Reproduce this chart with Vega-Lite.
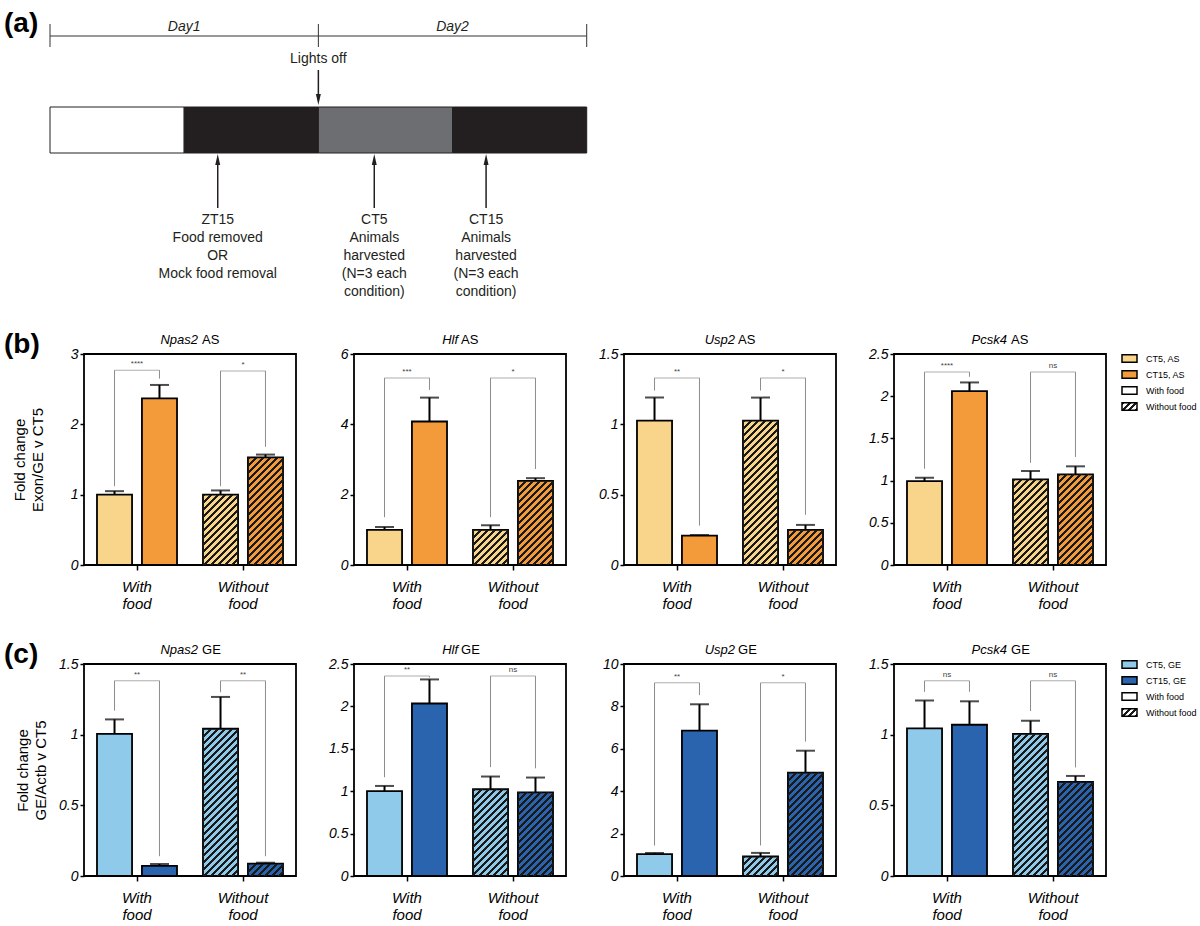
{
"$schema": "https://vega.github.io/schema/vega-lite/v6.json",
"padding": {"left": 3, "top": 10, "right": 2, "bottom": 4},
"background": "white",
"params": [{"name": "hatch", "value": [
{"offset":0,"color":"#1a1a1a"},{"offset":0.0133,"color":"#1a1a1a"},{"offset":0.0133,"color":"rgba(0,0,0,0)"},{"offset":0.0333,"color":"rgba(0,0,0,0)"},
{"offset":0.0333,"color":"#1a1a1a"},{"offset":0.0467,"color":"#1a1a1a"},{"offset":0.0467,"color":"rgba(0,0,0,0)"},{"offset":0.0667,"color":"rgba(0,0,0,0)"},
{"offset":0.0667,"color":"#1a1a1a"},{"offset":0.08,"color":"#1a1a1a"},{"offset":0.08,"color":"rgba(0,0,0,0)"},{"offset":0.1,"color":"rgba(0,0,0,0)"},
{"offset":0.1,"color":"#1a1a1a"},{"offset":0.1133,"color":"#1a1a1a"},{"offset":0.1133,"color":"rgba(0,0,0,0)"},{"offset":0.1333,"color":"rgba(0,0,0,0)"},
{"offset":0.1333,"color":"#1a1a1a"},{"offset":0.1467,"color":"#1a1a1a"},{"offset":0.1467,"color":"rgba(0,0,0,0)"},{"offset":0.1667,"color":"rgba(0,0,0,0)"},
{"offset":0.1667,"color":"#1a1a1a"},{"offset":0.18,"color":"#1a1a1a"},{"offset":0.18,"color":"rgba(0,0,0,0)"},{"offset":0.2,"color":"rgba(0,0,0,0)"},
{"offset":0.2,"color":"#1a1a1a"},{"offset":0.2133,"color":"#1a1a1a"},{"offset":0.2133,"color":"rgba(0,0,0,0)"},{"offset":0.2333,"color":"rgba(0,0,0,0)"},
{"offset":0.2333,"color":"#1a1a1a"},{"offset":0.2467,"color":"#1a1a1a"},{"offset":0.2467,"color":"rgba(0,0,0,0)"},{"offset":0.2667,"color":"rgba(0,0,0,0)"},
{"offset":0.2667,"color":"#1a1a1a"},{"offset":0.28,"color":"#1a1a1a"},{"offset":0.28,"color":"rgba(0,0,0,0)"},{"offset":0.3,"color":"rgba(0,0,0,0)"},
{"offset":0.3,"color":"#1a1a1a"},{"offset":0.3133,"color":"#1a1a1a"},{"offset":0.3133,"color":"rgba(0,0,0,0)"},{"offset":0.3333,"color":"rgba(0,0,0,0)"},
{"offset":0.3333,"color":"#1a1a1a"},{"offset":0.3467,"color":"#1a1a1a"},{"offset":0.3467,"color":"rgba(0,0,0,0)"},{"offset":0.3667,"color":"rgba(0,0,0,0)"},
{"offset":0.3667,"color":"#1a1a1a"},{"offset":0.38,"color":"#1a1a1a"},{"offset":0.38,"color":"rgba(0,0,0,0)"},{"offset":0.4,"color":"rgba(0,0,0,0)"},
{"offset":0.4,"color":"#1a1a1a"},{"offset":0.4133,"color":"#1a1a1a"},{"offset":0.4133,"color":"rgba(0,0,0,0)"},{"offset":0.4333,"color":"rgba(0,0,0,0)"},
{"offset":0.4333,"color":"#1a1a1a"},{"offset":0.4467,"color":"#1a1a1a"},{"offset":0.4467,"color":"rgba(0,0,0,0)"},{"offset":0.4667,"color":"rgba(0,0,0,0)"},
{"offset":0.4667,"color":"#1a1a1a"},{"offset":0.48,"color":"#1a1a1a"},{"offset":0.48,"color":"rgba(0,0,0,0)"},{"offset":0.5,"color":"rgba(0,0,0,0)"},
{"offset":0.5,"color":"#1a1a1a"},{"offset":0.5133,"color":"#1a1a1a"},{"offset":0.5133,"color":"rgba(0,0,0,0)"},{"offset":0.5333,"color":"rgba(0,0,0,0)"},
{"offset":0.5333,"color":"#1a1a1a"},{"offset":0.5467,"color":"#1a1a1a"},{"offset":0.5467,"color":"rgba(0,0,0,0)"},{"offset":0.5667,"color":"rgba(0,0,0,0)"},
{"offset":0.5667,"color":"#1a1a1a"},{"offset":0.58,"color":"#1a1a1a"},{"offset":0.58,"color":"rgba(0,0,0,0)"},{"offset":0.6,"color":"rgba(0,0,0,0)"},
{"offset":0.6,"color":"#1a1a1a"},{"offset":0.6133,"color":"#1a1a1a"},{"offset":0.6133,"color":"rgba(0,0,0,0)"},{"offset":0.6333,"color":"rgba(0,0,0,0)"},
{"offset":0.6333,"color":"#1a1a1a"},{"offset":0.6467,"color":"#1a1a1a"},{"offset":0.6467,"color":"rgba(0,0,0,0)"},{"offset":0.6667,"color":"rgba(0,0,0,0)"},
{"offset":0.6667,"color":"#1a1a1a"},{"offset":0.68,"color":"#1a1a1a"},{"offset":0.68,"color":"rgba(0,0,0,0)"},{"offset":0.7,"color":"rgba(0,0,0,0)"},
{"offset":0.7,"color":"#1a1a1a"},{"offset":0.7133,"color":"#1a1a1a"},{"offset":0.7133,"color":"rgba(0,0,0,0)"},{"offset":0.7333,"color":"rgba(0,0,0,0)"},
{"offset":0.7333,"color":"#1a1a1a"},{"offset":0.7467,"color":"#1a1a1a"},{"offset":0.7467,"color":"rgba(0,0,0,0)"},{"offset":0.7667,"color":"rgba(0,0,0,0)"},
{"offset":0.7667,"color":"#1a1a1a"},{"offset":0.78,"color":"#1a1a1a"},{"offset":0.78,"color":"rgba(0,0,0,0)"},{"offset":0.8,"color":"rgba(0,0,0,0)"},
{"offset":0.8,"color":"#1a1a1a"},{"offset":0.8133,"color":"#1a1a1a"},{"offset":0.8133,"color":"rgba(0,0,0,0)"},{"offset":0.8333,"color":"rgba(0,0,0,0)"},
{"offset":0.8333,"color":"#1a1a1a"},{"offset":0.8467,"color":"#1a1a1a"},{"offset":0.8467,"color":"rgba(0,0,0,0)"},{"offset":0.8667,"color":"rgba(0,0,0,0)"},
{"offset":0.8667,"color":"#1a1a1a"},{"offset":0.88,"color":"#1a1a1a"},{"offset":0.88,"color":"rgba(0,0,0,0)"},{"offset":0.9,"color":"rgba(0,0,0,0)"},
{"offset":0.9,"color":"#1a1a1a"},{"offset":0.9133,"color":"#1a1a1a"},{"offset":0.9133,"color":"rgba(0,0,0,0)"},{"offset":0.9333,"color":"rgba(0,0,0,0)"},
{"offset":0.9333,"color":"#1a1a1a"},{"offset":0.9467,"color":"#1a1a1a"},{"offset":0.9467,"color":"rgba(0,0,0,0)"},{"offset":0.9667,"color":"rgba(0,0,0,0)"},
{"offset":0.9667,"color":"#1a1a1a"},{"offset":0.98,"color":"#1a1a1a"},{"offset":0.98,"color":"rgba(0,0,0,0)"},{"offset":1,"color":"rgba(0,0,0,0)"}
]},
{"name": "legendHatch", "value": [
{"offset":0,"color":"#1a1a1a"},{"offset":0.11,"color":"#1a1a1a"},{"offset":0.11,"color":"white"},{"offset":0.25,"color":"white"},
{"offset":0.25,"color":"#1a1a1a"},{"offset":0.36,"color":"#1a1a1a"},{"offset":0.36,"color":"white"},{"offset":0.5,"color":"white"},
{"offset":0.5,"color":"#1a1a1a"},{"offset":0.61,"color":"#1a1a1a"},{"offset":0.61,"color":"white"},{"offset":0.75,"color":"white"},
{"offset":0.75,"color":"#1a1a1a"},{"offset":0.86,"color":"#1a1a1a"},{"offset":0.86,"color":"white"},{"offset":1,"color":"white"}
]}],
"datasets": {
"schedule": [
{"start": 0, "end": 12, "phase": "Light"},
{"start": 12, "end": 24, "phase": "Dark"},
{"start": 24, "end": 36, "phase": "Subjective day"},
{"start": 36, "end": 48, "phase": "Dark"}
],
"days": [
{"day": "Day1", "start": 0, "end": 24, "mid": 12},
{"day": "Day2", "start": 24, "end": 48, "mid": 36}
],
"dayBounds": [{"t": 0}, {"t": 24}, {"t": 48}],
"events": [
{"t": 15, "dir": "up", "label": "ZT15\nFood removed\nOR\nMock food removal"},
{"t": 29, "dir": "up", "label": "CT5\nAnimals\nharvested\n(N=3 each\ncondition)"},
{"t": 39, "dir": "up", "label": "CT15\nAnimals\nharvested\n(N=3 each\ncondition)"},
{"t": 24, "dir": "down", "label": "Lights off"}
],
"bars": [
{"panel":"Npas2 AS","food":"With food","time":"CT5","series":"CT5, AS","mean":1.0,"upper":1.05},
{"panel":"Npas2 AS","food":"With food","time":"CT15","series":"CT15, AS","mean":2.37,"upper":2.56},
{"panel":"Npas2 AS","food":"Without food","time":"CT5","series":"CT5, AS","mean":1.0,"upper":1.06},
{"panel":"Npas2 AS","food":"Without food","time":"CT15","series":"CT15, AS","mean":1.53,"upper":1.57},
{"panel":"Hlf AS","food":"With food","time":"CT5","series":"CT5, AS","mean":1.0,"upper":1.08},
{"panel":"Hlf AS","food":"With food","time":"CT15","series":"CT15, AS","mean":4.08,"upper":4.76},
{"panel":"Hlf AS","food":"Without food","time":"CT5","series":"CT5, AS","mean":1.0,"upper":1.13},
{"panel":"Hlf AS","food":"Without food","time":"CT15","series":"CT15, AS","mean":2.39,"upper":2.47},
{"panel":"Usp2 AS","food":"With food","time":"CT5","series":"CT5, AS","mean":1.027,"upper":1.19},
{"panel":"Usp2 AS","food":"With food","time":"CT15","series":"CT15, AS","mean":0.209,"upper":0.213},
{"panel":"Usp2 AS","food":"Without food","time":"CT5","series":"CT5, AS","mean":1.027,"upper":1.19},
{"panel":"Usp2 AS","food":"Without food","time":"CT15","series":"CT15, AS","mean":0.25,"upper":0.285},
{"panel":"Pcsk4 AS","food":"With food","time":"CT5","series":"CT5, AS","mean":0.994,"upper":1.034},
{"panel":"Pcsk4 AS","food":"With food","time":"CT15","series":"CT15, AS","mean":2.06,"upper":2.163},
{"panel":"Pcsk4 AS","food":"Without food","time":"CT5","series":"CT5, AS","mean":1.014,"upper":1.113},
{"panel":"Pcsk4 AS","food":"Without food","time":"CT15","series":"CT15, AS","mean":1.074,"upper":1.169},
{"panel":"Npas2 GE","food":"With food","time":"CT5","series":"CT5, GE","mean":1.005,"upper":1.108},
{"panel":"Npas2 GE","food":"With food","time":"CT15","series":"CT15, GE","mean":0.071,"upper":0.085},
{"panel":"Npas2 GE","food":"Without food","time":"CT5","series":"CT5, GE","mean":1.042,"upper":1.267},
{"panel":"Npas2 GE","food":"Without food","time":"CT15","series":"CT15, GE","mean":0.087,"upper":0.094},
{"panel":"Hlf GE","food":"With food","time":"CT5","series":"CT5, GE","mean":1.0,"upper":1.062},
{"panel":"Hlf GE","food":"With food","time":"CT15","series":"CT15, GE","mean":2.034,"upper":2.318},
{"panel":"Hlf GE","food":"Without food","time":"CT5","series":"CT5, GE","mean":1.023,"upper":1.173},
{"panel":"Hlf GE","food":"Without food","time":"CT15","series":"CT15, GE","mean":0.987,"upper":1.161},
{"panel":"Usp2 GE","food":"With food","time":"CT5","series":"CT5, GE","mean":1.03,"upper":1.09},
{"panel":"Usp2 GE","food":"With food","time":"CT15","series":"CT15, GE","mean":6.86,"upper":8.1},
{"panel":"Usp2 GE","food":"Without food","time":"CT5","series":"CT5, GE","mean":0.92,"upper":1.09},
{"panel":"Usp2 GE","food":"Without food","time":"CT15","series":"CT15, GE","mean":4.88,"upper":5.91},
{"panel":"Pcsk4 GE","food":"With food","time":"CT5","series":"CT5, GE","mean":1.044,"upper":1.241},
{"panel":"Pcsk4 GE","food":"With food","time":"CT15","series":"CT15, GE","mean":1.07,"upper":1.236},
{"panel":"Pcsk4 GE","food":"Without food","time":"CT5","series":"CT5, GE","mean":1.006,"upper":1.098},
{"panel":"Pcsk4 GE","food":"Without food","time":"CT15","series":"CT15, GE","mean":0.666,"upper":0.708}
],
"brackets": [
{"panel":"Npas2 AS","food":"With food","top":2.77,"left":1.12,"right":2.65,"sig":"****"},
{"panel":"Npas2 AS","food":"Without food","top":2.76,"left":1.12,"right":1.68,"sig":"*"},
{"panel":"Hlf AS","food":"With food","top":5.32,"left":1.36,"right":4.98,"sig":"***"},
{"panel":"Hlf AS","food":"Without food","top":5.32,"left":1.36,"right":2.73,"sig":"*"},
{"panel":"Usp2 AS","food":"With food","top":1.33,"left":1.24,"right":0.28,"sig":"**"},
{"panel":"Usp2 AS","food":"Without food","top":1.33,"left":1.24,"right":0.357,"sig":"*"},
{"panel":"Pcsk4 AS","food":"With food","top":2.286,"left":1.14,"right":2.23,"sig":"****"},
{"panel":"Pcsk4 AS","food":"Without food","top":2.286,"left":1.21,"right":1.28,"sig":"ns"},
{"panel":"Npas2 GE","food":"With food","top":1.382,"left":1.17,"right":0.14,"sig":"**"},
{"panel":"Npas2 GE","food":"Without food","top":1.382,"left":1.3,"right":0.14,"sig":"**"},
{"panel":"Hlf GE","food":"With food","top":2.358,"left":1.165,"right":2.34,"sig":"**"},
{"panel":"Hlf GE","food":"Without food","top":2.358,"left":1.284,"right":1.27,"sig":"ns"},
{"panel":"Usp2 GE","food":"With food","top":9.11,"left":1.44,"right":8.53,"sig":"**"},
{"panel":"Usp2 GE","food":"Without food","top":9.11,"left":1.44,"right":6.34,"sig":"*"},
{"panel":"Pcsk4 GE","food":"With food","top":1.381,"left":1.303,"right":1.303,"sig":"ns"},
{"panel":"Pcsk4 GE","food":"Without food","top":1.381,"left":1.167,"right":0.768,"sig":"ns"}
],
"titles": [
{"panel":"Npas2 AS","gene":"Npas2","kind":"AS"},
{"panel":"Hlf AS","gene":"Hlf","kind":"AS"},
{"panel":"Usp2 AS","gene":"Usp2","kind":"AS"},
{"panel":"Pcsk4 AS","gene":"Pcsk4","kind":"AS"},
{"panel":"Npas2 GE","gene":"Npas2","kind":"GE"},
{"panel":"Hlf GE","gene":"Hlf","kind":"GE"},
{"panel":"Usp2 GE","gene":"Usp2","kind":"GE"},
{"panel":"Pcsk4 GE","gene":"Pcsk4","kind":"GE"}
]
},
"config": {
"font": "Liberation Sans",
"view": {"stroke": null},
"axis": {"grid": false, "domain": false, "tickColor": "black", "tickWidth": 1.5, "labelColor": "black", "labelFontStyle": "italic", "titleColor": "black", "titleFontWeight": "normal", "titleFontStyle": "normal", "titleFontSize": 15},
"axisX": {"labelFontSize": 15, "labelLineHeight": 17, "tickSize": 5, "labelPadding": 9, "labelAngle": 0},
"axisY": {"labelFontSize": 14, "tickSize": 4, "labelPadding": 2, "titleLineHeight": 18},
"title": {"fontSize": 28, "fontWeight": "bold", "anchor": "start", "frame": "group", "dx": -80, "offset": 0, "baseline": "middle", "color": "black"}
},
"columns": 4,
"spacing": {"row": 99, "column": 58},
"bounds": "flush",
"align": "none",
"resolve": {"scale": {"fill": "independent", "stroke": "independent"}, "legend": {"fill": "independent", "stroke": "independent"}},
"concat": [
{
"width": 212, "height": 245,
"title": {"text": "(a)", "dy": 32},
"layer": [
{"data": {"name": "schedule"}, "mark": {"type": "bar", "stroke": "#231f20", "strokeWidth": 1},
 "encoding": {
  "x": {"field": "start", "type": "quantitative", "scale": {"domain": [3.04, 22.0], "nice": false, "zero": false}, "axis": null},
  "x2": {"field": "end"},
  "y": {"datum": 9.7, "type": "quantitative", "scale": {"domain": [0, 24.5], "reverse": true, "nice": false, "zero": false}, "axis": null},
  "y2": {"datum": 14.3},
  "fill": {"field": "phase", "type": "nominal", "scale": {"domain": ["Light", "Dark", "Subjective day"], "range": ["white", "#231f20", "#6d6e71"]}, "legend": null}
 }},
{"data": {"name": "days"}, "mark": {"type": "rule", "color": "#333333", "strokeWidth": 1},
 "encoding": {"x": {"field": "start", "type": "quantitative"}, "x2": {"field": "end"}, "y": {"datum": 2.6, "type": "quantitative"}}},
{"data": {"name": "dayBounds"}, "mark": {"type": "rule", "color": "#333333", "strokeWidth": 1},
 "encoding": {"x": {"field": "t", "type": "quantitative"}, "y": {"datum": 1.4, "type": "quantitative"}, "y2": {"datum": 3.7}}},
{"data": {"name": "days"}, "mark": {"type": "text", "fontSize": 14, "fontStyle": "italic", "baseline": "middle", "color": "#231f20"},
 "encoding": {"x": {"field": "mid", "type": "quantitative"}, "y": {"datum": 1.7, "type": "quantitative"}, "text": {"field": "day"}}},
{"data": {"name": "events"}, "transform": [{"filter": "datum.dir === 'up'"}],
 "layer": [
  {"mark": {"type": "rule", "color": "#231f20", "strokeWidth": 1.5},
   "encoding": {"x": {"field": "t", "type": "quantitative"}, "y": {"datum": 15.2, "type": "quantitative"}, "y2": {"datum": 19.8}}},
  {"mark": {"type": "point", "shape": "M0,-1L0.45,1L-0.45,1Z", "filled": true, "size": 121, "color": "#231f20", "opacity": 1},
   "encoding": {"x": {"field": "t", "type": "quantitative"}, "y": {"datum": 14.95, "type": "quantitative"}}},
  {"mark": {"type": "text", "fontSize": 14, "baseline": "top", "lineBreak": "\n", "lineHeight": 18, "color": "#231f20"},
   "encoding": {"x": {"field": "t", "type": "quantitative"}, "y": {"datum": 20.3, "type": "quantitative"}, "text": {"field": "label"}}}
 ]},
{"data": {"name": "events"}, "transform": [{"filter": "datum.dir === 'down'"}],
 "layer": [
  {"mark": {"type": "rule", "color": "#231f20", "strokeWidth": 1.5},
   "encoding": {"x": {"field": "t", "type": "quantitative"}, "y": {"datum": 6.0, "type": "quantitative"}, "y2": {"datum": 9.0}}},
  {"mark": {"type": "point", "shape": "M0,1L0.45,-1L-0.45,-1Z", "filled": true, "size": 121, "color": "#231f20", "opacity": 1},
   "encoding": {"x": {"field": "t", "type": "quantitative"}, "y": {"datum": 8.95, "type": "quantitative"}}},
  {"mark": {"type": "text", "fontSize": 14, "baseline": "middle", "color": "#231f20"},
   "encoding": {"x": {"field": "t", "type": "quantitative"}, "y": {"datum": 4.9, "type": "quantitative"}, "text": {"field": "label"}}}
 ]}
]
},
{"width": 1, "height": 245, "data": {"values": []}, "mark": "point"},
{"width": 1, "height": 245, "data": {"values": []}, "mark": "point"},
{"width": 1, "height": 245, "data": {"values": []}, "mark": "point"},
{
"width": 212, "height": 211,
"view": {"stroke": "black", "strokeWidth": 1.8},
"title": {"text": "(b)", "dy": 29},
"encoding": {"x": {"field": "food", "type": "nominal", "scale": {"domain": ["With food", "Without food"], "paddingInner": 0.245, "paddingOuter": 0.1225}, "axis": {"labelExpr": "split(datum.label, ' ')", "title": null}}},
"layer": [
{"data": {"name": "bars"}, "transform": [{"filter": "datum.panel === 'Npas2 AS'"}], "layer": [
 {"mark": {"type": "bar", "stroke": "black", "strokeWidth": 1.8},
  "encoding": {"xOffset": {"field": "time", "type": "nominal", "scale": {"domain": ["CT5", "CT15"], "paddingInner": 0.22, "paddingOuter": 0}},
   "y": {"field": "mean", "type": "quantitative", "stack": null, "scale": {"domain": [0, 3], "nice": false}, "axis": {"values": [0, 1, 2, 3], "format": "~r", "title": ["Fold change", "Exon/GE v CT5"], "titlePadding": 25}},
   "fill": {"field": "series", "type": "nominal", "scale": {"domain": ["CT5, AS", "CT15, AS"], "range": ["#F8D58A", "#F39A3B"]}, "legend": null}}},
 {"transform": [{"filter": "datum.food === 'Without food'"}], "mark": {"type": "bar", "strokeWidth": 0, "fill": {"expr": "{gradient:'linear',x1:0,y1:0,x2:7350/(1225+pow(datum.mean*70.33,2)),y2:210*datum.mean*70.33/(1225+pow(datum.mean*70.33,2)),stops:hatch}"}},
  "encoding": {"xOffset": {"field": "time", "type": "nominal"}, "y": {"field": "mean", "type": "quantitative", "stack": null}}},
 {"mark": {"type": "rule", "color": "black", "strokeWidth": 2},
  "encoding": {"xOffset": {"field": "time", "type": "nominal"}, "y": {"field": "mean", "type": "quantitative"}, "y2": {"field": "upper"}}},
 {"mark": {"type": "tick", "color": "black", "thickness": 2, "size": 19},
  "encoding": {"xOffset": {"field": "time", "type": "nominal"}, "y": {"field": "upper", "type": "quantitative"}}}
]},
{"data": {"name": "brackets"}, "transform": [{"filter": "datum.panel === 'Npas2 AS'"}], "layer": [
 {"mark": {"type": "rule", "color": "#8c8c8c", "strokeWidth": 1}, "encoding": {"xOffset": {"datum": "CT5", "type": "nominal"}, "y": {"field": "left", "type": "quantitative"}, "y2": {"field": "top"}}},
 {"mark": {"type": "rule", "color": "#8c8c8c", "strokeWidth": 1}, "encoding": {"xOffset": {"datum": "CT15", "type": "nominal"}, "y": {"field": "right", "type": "quantitative"}, "y2": {"field": "top"}}},
 {"mark": {"type": "tick", "color": "#8c8c8c", "thickness": 1, "size": 45}, "encoding": {"y": {"field": "top", "type": "quantitative"}}},
 {"mark": {"type": "text", "fontSize": 8, "color": "#444444", "baseline": "alphabetic", "dy": -4}, "encoding": {"y": {"field": "top", "type": "quantitative"}, "text": {"field": "sig"}}}
]},
{"data": {"name": "titles"}, "transform": [{"filter": "datum.panel === 'Npas2 AS'"}], "layer": [
 {"mark": {"type": "text", "fontSize": 13, "fontStyle": "italic", "align": "right", "baseline": "middle", "dx": 8, "dy": -14},
  "encoding": {"x": {"datum": "With food", "type": "nominal", "bandPosition": 1.1625}, "y": {"datum": 3, "type": "quantitative"}, "text": {"field": "gene"}}},
 {"mark": {"type": "text", "fontSize": 13, "align": "left", "baseline": "middle", "dx": 12, "dy": -14},
  "encoding": {"x": {"datum": "With food", "type": "nominal", "bandPosition": 1.1625}, "y": {"datum": 3, "type": "quantitative"}, "text": {"field": "kind"}}}
]}
]
},
{
"width": 212, "height": 211,
"view": {"stroke": "black", "strokeWidth": 1.8},
"encoding": {"x": {"field": "food", "type": "nominal", "scale": {"domain": ["With food", "Without food"], "paddingInner": 0.245, "paddingOuter": 0.1225}, "axis": {"labelExpr": "split(datum.label, ' ')", "title": null}}},
"layer": [
{"data": {"name": "bars"}, "transform": [{"filter": "datum.panel === 'Hlf AS'"}], "layer": [
 {"mark": {"type": "bar", "stroke": "black", "strokeWidth": 1.8},
  "encoding": {"xOffset": {"field": "time", "type": "nominal", "scale": {"domain": ["CT5", "CT15"], "paddingInner": 0.22, "paddingOuter": 0}},
   "y": {"field": "mean", "type": "quantitative", "stack": null, "scale": {"domain": [0, 6], "nice": false}, "axis": {"values": [0, 2, 4, 6], "format": "~r", "title": null}},
   "fill": {"field": "series", "type": "nominal", "scale": {"domain": ["CT5, AS", "CT15, AS"], "range": ["#F8D58A", "#F39A3B"]}, "legend": null}}},
 {"transform": [{"filter": "datum.food === 'Without food'"}], "mark": {"type": "bar", "strokeWidth": 0, "fill": {"expr": "{gradient:'linear',x1:0,y1:0,x2:7350/(1225+pow(datum.mean*35.17,2)),y2:210*datum.mean*35.17/(1225+pow(datum.mean*35.17,2)),stops:hatch}"}},
  "encoding": {"xOffset": {"field": "time", "type": "nominal"}, "y": {"field": "mean", "type": "quantitative", "stack": null}}},
 {"mark": {"type": "rule", "color": "black", "strokeWidth": 2},
  "encoding": {"xOffset": {"field": "time", "type": "nominal"}, "y": {"field": "mean", "type": "quantitative"}, "y2": {"field": "upper"}}},
 {"mark": {"type": "tick", "color": "black", "thickness": 2, "size": 19},
  "encoding": {"xOffset": {"field": "time", "type": "nominal"}, "y": {"field": "upper", "type": "quantitative"}}}
]},
{"data": {"name": "brackets"}, "transform": [{"filter": "datum.panel === 'Hlf AS'"}], "layer": [
 {"mark": {"type": "rule", "color": "#8c8c8c", "strokeWidth": 1}, "encoding": {"xOffset": {"datum": "CT5", "type": "nominal"}, "y": {"field": "left", "type": "quantitative"}, "y2": {"field": "top"}}},
 {"mark": {"type": "rule", "color": "#8c8c8c", "strokeWidth": 1}, "encoding": {"xOffset": {"datum": "CT15", "type": "nominal"}, "y": {"field": "right", "type": "quantitative"}, "y2": {"field": "top"}}},
 {"mark": {"type": "tick", "color": "#8c8c8c", "thickness": 1, "size": 45}, "encoding": {"y": {"field": "top", "type": "quantitative"}}},
 {"mark": {"type": "text", "fontSize": 8, "color": "#444444", "baseline": "alphabetic", "dy": -4}, "encoding": {"y": {"field": "top", "type": "quantitative"}, "text": {"field": "sig"}}}
]},
{"data": {"name": "titles"}, "transform": [{"filter": "datum.panel === 'Hlf AS'"}], "layer": [
 {"mark": {"type": "text", "fontSize": 13, "fontStyle": "italic", "align": "right", "baseline": "middle", "dx": -2, "dy": -14},
  "encoding": {"x": {"datum": "With food", "type": "nominal", "bandPosition": 1.1625}, "y": {"datum": 6, "type": "quantitative"}, "text": {"field": "gene"}}},
 {"mark": {"type": "text", "fontSize": 13, "align": "left", "baseline": "middle", "dx": 1, "dy": -14},
  "encoding": {"x": {"datum": "With food", "type": "nominal", "bandPosition": 1.1625}, "y": {"datum": 6, "type": "quantitative"}, "text": {"field": "kind"}}}
]}
]
},
{
"width": 212, "height": 211,
"view": {"stroke": "black", "strokeWidth": 1.8},
"encoding": {"x": {"field": "food", "type": "nominal", "scale": {"domain": ["With food", "Without food"], "paddingInner": 0.245, "paddingOuter": 0.1225}, "axis": {"labelExpr": "split(datum.label, ' ')", "title": null}}},
"layer": [
{"data": {"name": "bars"}, "transform": [{"filter": "datum.panel === 'Usp2 AS'"}], "layer": [
 {"mark": {"type": "bar", "stroke": "black", "strokeWidth": 1.8},
  "encoding": {"xOffset": {"field": "time", "type": "nominal", "scale": {"domain": ["CT5", "CT15"], "paddingInner": 0.22, "paddingOuter": 0}},
   "y": {"field": "mean", "type": "quantitative", "stack": null, "scale": {"domain": [0, 1.5], "nice": false}, "axis": {"values": [0, 0.5, 1, 1.5], "format": "~r", "title": null}},
   "fill": {"field": "series", "type": "nominal", "scale": {"domain": ["CT5, AS", "CT15, AS"], "range": ["#F8D58A", "#F39A3B"]}, "legend": null}}},
 {"transform": [{"filter": "datum.food === 'Without food'"}], "mark": {"type": "bar", "strokeWidth": 0, "fill": {"expr": "{gradient:'linear',x1:0,y1:0,x2:7350/(1225+pow(datum.mean*140.67,2)),y2:210*datum.mean*140.67/(1225+pow(datum.mean*140.67,2)),stops:hatch}"}},
  "encoding": {"xOffset": {"field": "time", "type": "nominal"}, "y": {"field": "mean", "type": "quantitative", "stack": null}}},
 {"mark": {"type": "rule", "color": "black", "strokeWidth": 2},
  "encoding": {"xOffset": {"field": "time", "type": "nominal"}, "y": {"field": "mean", "type": "quantitative"}, "y2": {"field": "upper"}}},
 {"mark": {"type": "tick", "color": "black", "thickness": 2, "size": 19},
  "encoding": {"xOffset": {"field": "time", "type": "nominal"}, "y": {"field": "upper", "type": "quantitative"}}}
]},
{"data": {"name": "brackets"}, "transform": [{"filter": "datum.panel === 'Usp2 AS'"}], "layer": [
 {"mark": {"type": "rule", "color": "#8c8c8c", "strokeWidth": 1}, "encoding": {"xOffset": {"datum": "CT5", "type": "nominal"}, "y": {"field": "left", "type": "quantitative"}, "y2": {"field": "top"}}},
 {"mark": {"type": "rule", "color": "#8c8c8c", "strokeWidth": 1}, "encoding": {"xOffset": {"datum": "CT15", "type": "nominal"}, "y": {"field": "right", "type": "quantitative"}, "y2": {"field": "top"}}},
 {"mark": {"type": "tick", "color": "#8c8c8c", "thickness": 1, "size": 45}, "encoding": {"y": {"field": "top", "type": "quantitative"}}},
 {"mark": {"type": "text", "fontSize": 8, "color": "#444444", "baseline": "alphabetic", "dy": -4}, "encoding": {"y": {"field": "top", "type": "quantitative"}, "text": {"field": "sig"}}}
]},
{"data": {"name": "titles"}, "transform": [{"filter": "datum.panel === 'Usp2 AS'"}], "layer": [
 {"mark": {"type": "text", "fontSize": 13, "fontStyle": "italic", "align": "right", "baseline": "middle", "dx": 5, "dy": -14},
  "encoding": {"x": {"datum": "With food", "type": "nominal", "bandPosition": 1.1625}, "y": {"datum": 1.5, "type": "quantitative"}, "text": {"field": "gene"}}},
 {"mark": {"type": "text", "fontSize": 13, "align": "left", "baseline": "middle", "dx": 8, "dy": -14},
  "encoding": {"x": {"datum": "With food", "type": "nominal", "bandPosition": 1.1625}, "y": {"datum": 1.5, "type": "quantitative"}, "text": {"field": "kind"}}}
]}
]
},
{
"width": 212, "height": 211,
"view": {"stroke": "black", "strokeWidth": 1.8},
"encoding": {"x": {"field": "food", "type": "nominal", "scale": {"domain": ["With food", "Without food"], "paddingInner": 0.245, "paddingOuter": 0.1225}, "axis": {"labelExpr": "split(datum.label, ' ')", "title": null}}},
"layer": [
{"data": {"name": "bars"}, "transform": [{"filter": "datum.panel === 'Pcsk4 AS'"}], "layer": [
 {"mark": {"type": "bar", "strokeWidth": 1.8},
  "encoding": {"xOffset": {"field": "time", "type": "nominal", "scale": {"domain": ["CT5", "CT15"], "paddingInner": 0.22, "paddingOuter": 0}},
   "y": {"field": "mean", "type": "quantitative", "stack": null, "scale": {"domain": [0, 2.5], "nice": false}, "axis": {"values": [0, 0.5, 1, 1.5, 2, 2.5], "format": "~r", "title": null}},
   "fill": {"field": "series", "type": "nominal", "scale": {"domain": ["CT5, AS", "CT15, AS"], "range": ["#F8D58A", "#F39A3B"]}, "legend": null},
   "stroke": {"field": "series", "type": "nominal", "scale": {"domain": ["CT5, AS", "CT15, AS", "With food", "Without food"], "range": ["black", "black", "black", "black"]},
    "legend": {"orient": "none", "legendX": 227, "legendY": -4, "title": null, "symbolType": "M-1,-0.5H1V0.5H-1Z", "symbolSize": 225, "symbolStrokeWidth": 1.5, "symbolOpacity": 1, "labelFontSize": 9, "labelColor": "black", "labelOffset": 8, "rowPadding": 0, "padding": 0,
     "encoding": {"symbols": {"fill": {"value": {"expr": "datum.value === 'Without food' ? {gradient:'linear',x1:0,y1:0,x2:1.4,y2:0.7,stops:legendHatch} : datum.value === 'CT5, AS' ? '#F8D58A' : datum.value === 'CT15, AS' ? '#F39A3B' : 'white'"}}, "fillOpacity": {"value": 1}, "strokeWidth": {"value": 1.5}}}}}}},
 {"transform": [{"filter": "datum.food === 'Without food'"}], "mark": {"type": "bar", "strokeWidth": 0, "fill": {"expr": "{gradient:'linear',x1:0,y1:0,x2:7350/(1225+pow(datum.mean*84.4,2)),y2:210*datum.mean*84.4/(1225+pow(datum.mean*84.4,2)),stops:hatch}"}},
  "encoding": {"xOffset": {"field": "time", "type": "nominal"}, "y": {"field": "mean", "type": "quantitative", "stack": null}}},
 {"mark": {"type": "rule", "color": "black", "strokeWidth": 2},
  "encoding": {"xOffset": {"field": "time", "type": "nominal"}, "y": {"field": "mean", "type": "quantitative"}, "y2": {"field": "upper"}}},
 {"mark": {"type": "tick", "color": "black", "thickness": 2, "size": 19},
  "encoding": {"xOffset": {"field": "time", "type": "nominal"}, "y": {"field": "upper", "type": "quantitative"}}}
]},
{"data": {"name": "brackets"}, "transform": [{"filter": "datum.panel === 'Pcsk4 AS'"}], "layer": [
 {"mark": {"type": "rule", "color": "#8c8c8c", "strokeWidth": 1}, "encoding": {"xOffset": {"datum": "CT5", "type": "nominal"}, "y": {"field": "left", "type": "quantitative"}, "y2": {"field": "top"}}},
 {"mark": {"type": "rule", "color": "#8c8c8c", "strokeWidth": 1}, "encoding": {"xOffset": {"datum": "CT15", "type": "nominal"}, "y": {"field": "right", "type": "quantitative"}, "y2": {"field": "top"}}},
 {"mark": {"type": "tick", "color": "#8c8c8c", "thickness": 1, "size": 45}, "encoding": {"y": {"field": "top", "type": "quantitative"}}},
 {"mark": {"type": "text", "fontSize": 8, "color": "#444444", "baseline": "alphabetic", "dy": -4}, "encoding": {"y": {"field": "top", "type": "quantitative"}, "text": {"field": "sig"}}}
]},
{"data": {"name": "titles"}, "transform": [{"filter": "datum.panel === 'Pcsk4 AS'"}], "layer": [
 {"mark": {"type": "text", "fontSize": 13, "fontStyle": "italic", "align": "right", "baseline": "middle", "dx": 7, "dy": -14},
  "encoding": {"x": {"datum": "With food", "type": "nominal", "bandPosition": 1.1625}, "y": {"datum": 2.5, "type": "quantitative"}, "text": {"field": "gene"}}},
 {"mark": {"type": "text", "fontSize": 13, "align": "left", "baseline": "middle", "dx": 11, "dy": -14},
  "encoding": {"x": {"datum": "With food", "type": "nominal", "bandPosition": 1.1625}, "y": {"datum": 2.5, "type": "quantitative"}, "text": {"field": "kind"}}}
]}
]
},
{
"width": 212, "height": 212,
"view": {"stroke": "black", "strokeWidth": 1.8},
"title": {"text": "(c)", "dy": 29},
"encoding": {"x": {"field": "food", "type": "nominal", "scale": {"domain": ["With food", "Without food"], "paddingInner": 0.245, "paddingOuter": 0.1225}, "axis": {"labelExpr": "split(datum.label, ' ')", "title": null}}},
"layer": [
{"data": {"name": "bars"}, "transform": [{"filter": "datum.panel === 'Npas2 GE'"}], "layer": [
 {"mark": {"type": "bar", "stroke": "black", "strokeWidth": 1.8},
  "encoding": {"xOffset": {"field": "time", "type": "nominal", "scale": {"domain": ["CT5", "CT15"], "paddingInner": 0.22, "paddingOuter": 0}},
   "y": {"field": "mean", "type": "quantitative", "stack": null, "scale": {"domain": [0, 1.5], "nice": false}, "axis": {"values": [0, 0.5, 1, 1.5], "format": "~r", "title": ["Fold change", "GE/Actb v CT5"], "titlePadding": 10}},
   "fill": {"field": "series", "type": "nominal", "scale": {"domain": ["CT5, GE", "CT15, GE"], "range": ["#8FCAEB", "#2A64AE"]}, "legend": null}}},
 {"transform": [{"filter": "datum.food === 'Without food'"}], "mark": {"type": "bar", "strokeWidth": 0, "fill": {"expr": "{gradient:'linear',x1:0,y1:0,x2:7350/(1225+pow(datum.mean*141.33,2)),y2:210*datum.mean*141.33/(1225+pow(datum.mean*141.33,2)),stops:hatch}"}},
  "encoding": {"xOffset": {"field": "time", "type": "nominal"}, "y": {"field": "mean", "type": "quantitative", "stack": null}}},
 {"mark": {"type": "rule", "color": "black", "strokeWidth": 2},
  "encoding": {"xOffset": {"field": "time", "type": "nominal"}, "y": {"field": "mean", "type": "quantitative"}, "y2": {"field": "upper"}}},
 {"mark": {"type": "tick", "color": "black", "thickness": 2, "size": 19},
  "encoding": {"xOffset": {"field": "time", "type": "nominal"}, "y": {"field": "upper", "type": "quantitative"}}}
]},
{"data": {"name": "brackets"}, "transform": [{"filter": "datum.panel === 'Npas2 GE'"}], "layer": [
 {"mark": {"type": "rule", "color": "#8c8c8c", "strokeWidth": 1}, "encoding": {"xOffset": {"datum": "CT5", "type": "nominal"}, "y": {"field": "left", "type": "quantitative"}, "y2": {"field": "top"}}},
 {"mark": {"type": "rule", "color": "#8c8c8c", "strokeWidth": 1}, "encoding": {"xOffset": {"datum": "CT15", "type": "nominal"}, "y": {"field": "right", "type": "quantitative"}, "y2": {"field": "top"}}},
 {"mark": {"type": "tick", "color": "#8c8c8c", "thickness": 1, "size": 45}, "encoding": {"y": {"field": "top", "type": "quantitative"}}},
 {"mark": {"type": "text", "fontSize": 8, "color": "#444444", "baseline": "alphabetic", "dy": -4}, "encoding": {"y": {"field": "top", "type": "quantitative"}, "text": {"field": "sig"}}}
]},
{"data": {"name": "titles"}, "transform": [{"filter": "datum.panel === 'Npas2 GE'"}], "layer": [
 {"mark": {"type": "text", "fontSize": 13, "fontStyle": "italic", "align": "right", "baseline": "middle", "dx": 8, "dy": -14},
  "encoding": {"x": {"datum": "With food", "type": "nominal", "bandPosition": 1.1625}, "y": {"datum": 1.5, "type": "quantitative"}, "text": {"field": "gene"}}},
 {"mark": {"type": "text", "fontSize": 13, "align": "left", "baseline": "middle", "dx": 12, "dy": -14},
  "encoding": {"x": {"datum": "With food", "type": "nominal", "bandPosition": 1.1625}, "y": {"datum": 1.5, "type": "quantitative"}, "text": {"field": "kind"}}}
]}
]
},
{
"width": 212, "height": 212,
"view": {"stroke": "black", "strokeWidth": 1.8},
"encoding": {"x": {"field": "food", "type": "nominal", "scale": {"domain": ["With food", "Without food"], "paddingInner": 0.245, "paddingOuter": 0.1225}, "axis": {"labelExpr": "split(datum.label, ' ')", "title": null}}},
"layer": [
{"data": {"name": "bars"}, "transform": [{"filter": "datum.panel === 'Hlf GE'"}], "layer": [
 {"mark": {"type": "bar", "stroke": "black", "strokeWidth": 1.8},
  "encoding": {"xOffset": {"field": "time", "type": "nominal", "scale": {"domain": ["CT5", "CT15"], "paddingInner": 0.22, "paddingOuter": 0}},
   "y": {"field": "mean", "type": "quantitative", "stack": null, "scale": {"domain": [0, 2.5], "nice": false}, "axis": {"values": [0, 0.5, 1, 1.5, 2, 2.5], "format": "~r", "title": null}},
   "fill": {"field": "series", "type": "nominal", "scale": {"domain": ["CT5, GE", "CT15, GE"], "range": ["#8FCAEB", "#2A64AE"]}, "legend": null}}},
 {"transform": [{"filter": "datum.food === 'Without food'"}], "mark": {"type": "bar", "strokeWidth": 0, "fill": {"expr": "{gradient:'linear',x1:0,y1:0,x2:7350/(1225+pow(datum.mean*84.8,2)),y2:210*datum.mean*84.8/(1225+pow(datum.mean*84.8,2)),stops:hatch}"}},
  "encoding": {"xOffset": {"field": "time", "type": "nominal"}, "y": {"field": "mean", "type": "quantitative", "stack": null}}},
 {"mark": {"type": "rule", "color": "black", "strokeWidth": 2},
  "encoding": {"xOffset": {"field": "time", "type": "nominal"}, "y": {"field": "mean", "type": "quantitative"}, "y2": {"field": "upper"}}},
 {"mark": {"type": "tick", "color": "black", "thickness": 2, "size": 19},
  "encoding": {"xOffset": {"field": "time", "type": "nominal"}, "y": {"field": "upper", "type": "quantitative"}}}
]},
{"data": {"name": "brackets"}, "transform": [{"filter": "datum.panel === 'Hlf GE'"}], "layer": [
 {"mark": {"type": "rule", "color": "#8c8c8c", "strokeWidth": 1}, "encoding": {"xOffset": {"datum": "CT5", "type": "nominal"}, "y": {"field": "left", "type": "quantitative"}, "y2": {"field": "top"}}},
 {"mark": {"type": "rule", "color": "#8c8c8c", "strokeWidth": 1}, "encoding": {"xOffset": {"datum": "CT15", "type": "nominal"}, "y": {"field": "right", "type": "quantitative"}, "y2": {"field": "top"}}},
 {"mark": {"type": "tick", "color": "#8c8c8c", "thickness": 1, "size": 45}, "encoding": {"y": {"field": "top", "type": "quantitative"}}},
 {"mark": {"type": "text", "fontSize": 8, "color": "#444444", "baseline": "alphabetic", "dy": -4}, "encoding": {"y": {"field": "top", "type": "quantitative"}, "text": {"field": "sig"}}}
]},
{"data": {"name": "titles"}, "transform": [{"filter": "datum.panel === 'Hlf GE'"}], "layer": [
 {"mark": {"type": "text", "fontSize": 13, "fontStyle": "italic", "align": "right", "baseline": "middle", "dx": -2, "dy": -14},
  "encoding": {"x": {"datum": "With food", "type": "nominal", "bandPosition": 1.1625}, "y": {"datum": 2.5, "type": "quantitative"}, "text": {"field": "gene"}}},
 {"mark": {"type": "text", "fontSize": 13, "align": "left", "baseline": "middle", "dx": 1, "dy": -14},
  "encoding": {"x": {"datum": "With food", "type": "nominal", "bandPosition": 1.1625}, "y": {"datum": 2.5, "type": "quantitative"}, "text": {"field": "kind"}}}
]}
]
},
{
"width": 212, "height": 212,
"view": {"stroke": "black", "strokeWidth": 1.8},
"encoding": {"x": {"field": "food", "type": "nominal", "scale": {"domain": ["With food", "Without food"], "paddingInner": 0.245, "paddingOuter": 0.1225}, "axis": {"labelExpr": "split(datum.label, ' ')", "title": null}}},
"layer": [
{"data": {"name": "bars"}, "transform": [{"filter": "datum.panel === 'Usp2 GE'"}], "layer": [
 {"mark": {"type": "bar", "stroke": "black", "strokeWidth": 1.8},
  "encoding": {"xOffset": {"field": "time", "type": "nominal", "scale": {"domain": ["CT5", "CT15"], "paddingInner": 0.22, "paddingOuter": 0}},
   "y": {"field": "mean", "type": "quantitative", "stack": null, "scale": {"domain": [0, 10], "nice": false}, "axis": {"values": [0, 2, 4, 6, 8, 10], "format": "~r", "title": null}},
   "fill": {"field": "series", "type": "nominal", "scale": {"domain": ["CT5, GE", "CT15, GE"], "range": ["#8FCAEB", "#2A64AE"]}, "legend": null}}},
 {"transform": [{"filter": "datum.food === 'Without food'"}], "mark": {"type": "bar", "strokeWidth": 0, "fill": {"expr": "{gradient:'linear',x1:0,y1:0,x2:7350/(1225+pow(datum.mean*21.2,2)),y2:210*datum.mean*21.2/(1225+pow(datum.mean*21.2,2)),stops:hatch}"}},
  "encoding": {"xOffset": {"field": "time", "type": "nominal"}, "y": {"field": "mean", "type": "quantitative", "stack": null}}},
 {"mark": {"type": "rule", "color": "black", "strokeWidth": 2},
  "encoding": {"xOffset": {"field": "time", "type": "nominal"}, "y": {"field": "mean", "type": "quantitative"}, "y2": {"field": "upper"}}},
 {"mark": {"type": "tick", "color": "black", "thickness": 2, "size": 19},
  "encoding": {"xOffset": {"field": "time", "type": "nominal"}, "y": {"field": "upper", "type": "quantitative"}}}
]},
{"data": {"name": "brackets"}, "transform": [{"filter": "datum.panel === 'Usp2 GE'"}], "layer": [
 {"mark": {"type": "rule", "color": "#8c8c8c", "strokeWidth": 1}, "encoding": {"xOffset": {"datum": "CT5", "type": "nominal"}, "y": {"field": "left", "type": "quantitative"}, "y2": {"field": "top"}}},
 {"mark": {"type": "rule", "color": "#8c8c8c", "strokeWidth": 1}, "encoding": {"xOffset": {"datum": "CT15", "type": "nominal"}, "y": {"field": "right", "type": "quantitative"}, "y2": {"field": "top"}}},
 {"mark": {"type": "tick", "color": "#8c8c8c", "thickness": 1, "size": 45}, "encoding": {"y": {"field": "top", "type": "quantitative"}}},
 {"mark": {"type": "text", "fontSize": 8, "color": "#444444", "baseline": "alphabetic", "dy": -4}, "encoding": {"y": {"field": "top", "type": "quantitative"}, "text": {"field": "sig"}}}
]},
{"data": {"name": "titles"}, "transform": [{"filter": "datum.panel === 'Usp2 GE'"}], "layer": [
 {"mark": {"type": "text", "fontSize": 13, "fontStyle": "italic", "align": "right", "baseline": "middle", "dx": 5, "dy": -14},
  "encoding": {"x": {"datum": "With food", "type": "nominal", "bandPosition": 1.1625}, "y": {"datum": 10, "type": "quantitative"}, "text": {"field": "gene"}}},
 {"mark": {"type": "text", "fontSize": 13, "align": "left", "baseline": "middle", "dx": 8, "dy": -14},
  "encoding": {"x": {"datum": "With food", "type": "nominal", "bandPosition": 1.1625}, "y": {"datum": 10, "type": "quantitative"}, "text": {"field": "kind"}}}
]}
]
},
{
"width": 212, "height": 212,
"view": {"stroke": "black", "strokeWidth": 1.8},
"encoding": {"x": {"field": "food", "type": "nominal", "scale": {"domain": ["With food", "Without food"], "paddingInner": 0.245, "paddingOuter": 0.1225}, "axis": {"labelExpr": "split(datum.label, ' ')", "title": null}}},
"layer": [
{"data": {"name": "bars"}, "transform": [{"filter": "datum.panel === 'Pcsk4 GE'"}], "layer": [
 {"mark": {"type": "bar", "strokeWidth": 1.8},
  "encoding": {"xOffset": {"field": "time", "type": "nominal", "scale": {"domain": ["CT5", "CT15"], "paddingInner": 0.22, "paddingOuter": 0}},
   "y": {"field": "mean", "type": "quantitative", "stack": null, "scale": {"domain": [0, 1.5], "nice": false}, "axis": {"values": [0, 0.5, 1, 1.5], "format": "~r", "title": null}},
   "fill": {"field": "series", "type": "nominal", "scale": {"domain": ["CT5, GE", "CT15, GE"], "range": ["#8FCAEB", "#2A64AE"]}, "legend": null},
   "stroke": {"field": "series", "type": "nominal", "scale": {"domain": ["CT5, GE", "CT15, GE", "With food", "Without food"], "range": ["black", "black", "black", "black"]},
    "legend": {"orient": "none", "legendX": 227, "legendY": -8, "title": null, "symbolType": "M-1,-0.5H1V0.5H-1Z", "symbolSize": 225, "symbolStrokeWidth": 1.5, "symbolOpacity": 1, "labelFontSize": 9, "labelColor": "black", "labelOffset": 8, "rowPadding": 0, "padding": 0,
     "encoding": {"symbols": {"fill": {"value": {"expr": "datum.value === 'Without food' ? {gradient:'linear',x1:0,y1:0,x2:1.4,y2:0.7,stops:legendHatch} : datum.value === 'CT5, GE' ? '#8FCAEB' : datum.value === 'CT15, GE' ? '#2A64AE' : 'white'"}}, "fillOpacity": {"value": 1}, "strokeWidth": {"value": 1.5}}}}}}},
 {"transform": [{"filter": "datum.food === 'Without food'"}], "mark": {"type": "bar", "strokeWidth": 0, "fill": {"expr": "{gradient:'linear',x1:0,y1:0,x2:7350/(1225+pow(datum.mean*141.33,2)),y2:210*datum.mean*141.33/(1225+pow(datum.mean*141.33,2)),stops:hatch}"}},
  "encoding": {"xOffset": {"field": "time", "type": "nominal"}, "y": {"field": "mean", "type": "quantitative", "stack": null}}},
 {"mark": {"type": "rule", "color": "black", "strokeWidth": 2},
  "encoding": {"xOffset": {"field": "time", "type": "nominal"}, "y": {"field": "mean", "type": "quantitative"}, "y2": {"field": "upper"}}},
 {"mark": {"type": "tick", "color": "black", "thickness": 2, "size": 19},
  "encoding": {"xOffset": {"field": "time", "type": "nominal"}, "y": {"field": "upper", "type": "quantitative"}}}
]},
{"data": {"name": "brackets"}, "transform": [{"filter": "datum.panel === 'Pcsk4 GE'"}], "layer": [
 {"mark": {"type": "rule", "color": "#8c8c8c", "strokeWidth": 1}, "encoding": {"xOffset": {"datum": "CT5", "type": "nominal"}, "y": {"field": "left", "type": "quantitative"}, "y2": {"field": "top"}}},
 {"mark": {"type": "rule", "color": "#8c8c8c", "strokeWidth": 1}, "encoding": {"xOffset": {"datum": "CT15", "type": "nominal"}, "y": {"field": "right", "type": "quantitative"}, "y2": {"field": "top"}}},
 {"mark": {"type": "tick", "color": "#8c8c8c", "thickness": 1, "size": 45}, "encoding": {"y": {"field": "top", "type": "quantitative"}}},
 {"mark": {"type": "text", "fontSize": 8, "color": "#444444", "baseline": "alphabetic", "dy": -4}, "encoding": {"y": {"field": "top", "type": "quantitative"}, "text": {"field": "sig"}}}
]},
{"data": {"name": "titles"}, "transform": [{"filter": "datum.panel === 'Pcsk4 GE'"}], "layer": [
 {"mark": {"type": "text", "fontSize": 13, "fontStyle": "italic", "align": "right", "baseline": "middle", "dx": 7, "dy": -14},
  "encoding": {"x": {"datum": "With food", "type": "nominal", "bandPosition": 1.1625}, "y": {"datum": 1.5, "type": "quantitative"}, "text": {"field": "gene"}}},
 {"mark": {"type": "text", "fontSize": 13, "align": "left", "baseline": "middle", "dx": 11, "dy": -14},
  "encoding": {"x": {"datum": "With food", "type": "nominal", "bandPosition": 1.1625}, "y": {"datum": 1.5, "type": "quantitative"}, "text": {"field": "kind"}}}
]}
]
}
]
}
